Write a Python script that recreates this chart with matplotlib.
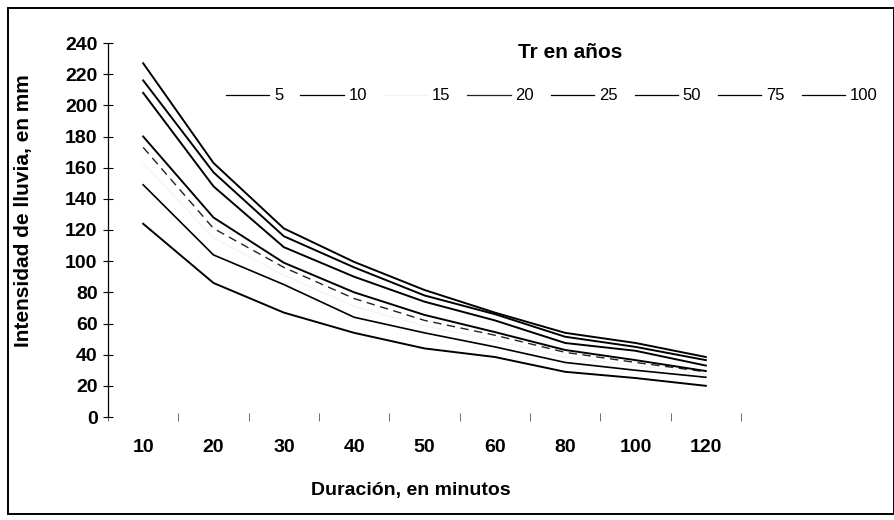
import matplotlib
matplotlib.use("Agg")
import matplotlib.pyplot as plt
from matplotlib.patches import Rectangle
from matplotlib.lines import Line2D
import numpy as np

plt.rcParams['font.family'] = ['Liberation Sans', 'DejaVu Sans']

# Data
durations = ["10", "20", "30", "40", "50", "60", "80", "100", "120"]
tr_labels = ["5", "10", "15", "20", "25", "50", "75", "100"]
tr5 = [124, 86, 67, 54, 44, 38.5, 29, 25, 20]
tr10 = [149, 104, 85, 64, 54, 45, 35, 30, 25.5]
tr15 = [163, 115, 91, 71, 58.5, 49, 38.5, 33, 27.5]
tr20 = [173, 121, 96, 76, 62, 52.5, 41.5, 35, 29]
tr25 = [180, 128, 99, 80, 65.5, 54.5, 43, 36.5, 29.5]
tr50 = [208, 148, 109, 90, 74, 62, 47.5, 42.5, 33]
tr75 = [216, 157, 116, 96, 78, 66, 51.5, 45, 36.5]
tr100 = [227, 163, 121, 99.5, 81.5, 67, 54, 47.5, 38.5]
series = [tr5, tr10, tr15, tr20, tr25, tr50, tr75, tr100]
y_ticks = list(range(0, 241, 20))

# Styles
colors = ['black', 'black', '#f4f4f4', '#222222', 'black', 'black', 'black', 'black']
styles = ['-', '-', '-', (0, (6, 4)), '-', '-', '-', '-']
widths = [1.4, 1.2, 1.0, 1.0, 1.4, 1.4, 1.4, 1.4]

W, H = 895, 520
fig = plt.figure(figsize=(W / 100, H / 100), dpi=100)
x0, x1, y0, y1 = 108, 741, 43, 417
ax = fig.add_axes([x0 / W, 1 - y1 / H, (x1 - x0) / W, (y1 - y0) / H])

xpos = np.arange(len(durations))
handles = []
for vals, c, ls, lw, lab in zip(series, colors, styles, widths, tr_labels):
    ax.plot(xpos, vals, color=c, linestyle=ls, linewidth=lw,
            solid_joinstyle='round', zorder=3 if c != '#f4f4f4' else 1)
    handles.append(Line2D([], [], color=c, linestyle='-', linewidth=0.9))

ax.set_xlim(-0.5, len(durations) - 0.5)
ax.set_ylim(0, 240)
ax.set_yticks(y_ticks)
ax.set_yticklabels([str(v) for v in y_ticks], fontweight='bold')
ax.set_xticks(xpos)
ax.set_xticklabels(durations, fontweight='bold')
ax.set_xticks(np.arange(len(durations) + 1) - 0.5, minor=True)

for s in ['top', 'right']:
    ax.spines[s].set_visible(False)
ax.spines['bottom'].set_visible(False)
ax.spines['left'].set_linewidth(0.9)

ax.tick_params(axis='y', direction='inout', length=7, width=0.8, pad=4,
               labelsize=14)
ax.tick_params(axis='x', which='major', length=0, pad=16, labelsize=14)
ax.tick_params(axis='x', which='minor', direction='inout', length=6,
               width=0.6, color='#555555')

ax.set_ylabel("Intensidad de lluvia, en mm", fontsize=15, fontweight='bold')
ax.yaxis.set_label_coords(-0.118, 0.553)
ax.set_xlabel("Duración, en minutos", fontsize=14, fontweight='bold')
ax.xaxis.set_label_coords(0.479, -0.175)

fig.text(570 / W, 1 - 52 / H, "Tr en años", fontsize=15, fontweight='bold',
         ha='center', va='center')
fig.legend(handles, tr_labels, ncol=8, loc='center left',
           bbox_to_anchor=(226 / W, 1 - 96 / H), frameon=False, fontsize=12,
           handlelength=2.6, handletextpad=0.3, columnspacing=1.0,
           borderaxespad=0, borderpad=0)

fig.patches.append(Rectangle((8 / W, 1 - 514 / H), 886 / W, 506 / H,
                             transform=fig.transFigure, fill=False,
                             edgecolor='black', linewidth=1.4))

fig.savefig("out.png", dpi=100)
